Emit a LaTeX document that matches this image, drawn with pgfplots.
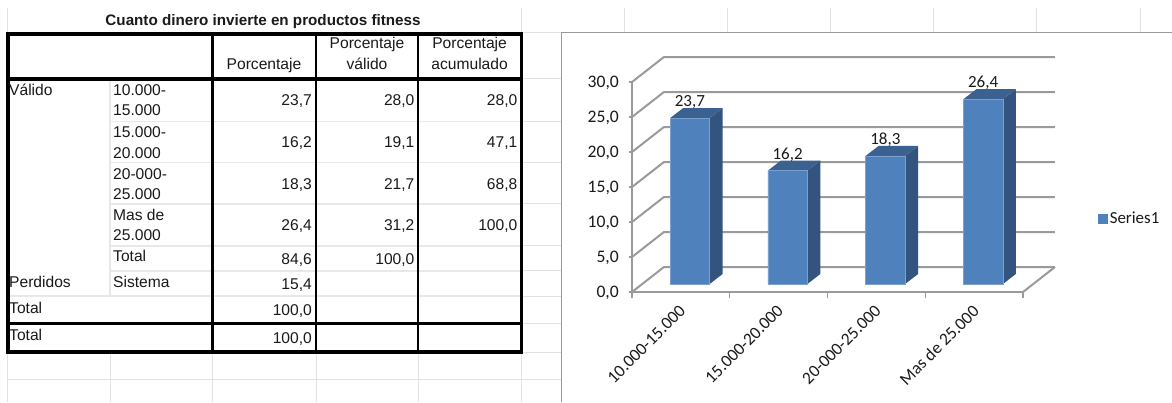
\documentclass[border=0pt]{standalone}
\usepackage{fontspec}
\setmainfont{Liberation Sans}
\newfontfamily\chartfont{Carlito}
\usepackage{pgfplots}
\usepackage{pgfplotstable}
\pgfplotsset{compat=1.18}

\definecolor{sheetgrid}{HTML}{E2E2E2}
\definecolor{rowgrid}{HTML}{E8E8E8}
\definecolor{wallline}{HTML}{9A9A9A}
\definecolor{barfront}{HTML}{4F81BD}
\definecolor{barside}{HTML}{33547F}
\definecolor{bartop}{HTML}{3A6190}
\definecolor{inktext}{HTML}{1A1A1A}

% Porcentaje by income band
\pgfplotstableread{
x   v
0.5 23.7
1.5 16.2
2.5 18.3
3.5 26.4
}\fitnessdata

% Depth of the extruded bars and half of their width, in axis units
\def\bardx{0.133}
\def\bardy{1.43}
\def\barhw{0.202}

% Side and top faces of one extruded bar at centre #1 and value #2
\newcommand\barfaces[2]{%
  \pgfmathsetmacro\xa{#1+\barhw}%
  \pgfmathsetmacro\xb{#1+\barhw+\bardx}%
  \pgfmathsetmacro\xc{#1-\barhw}%
  \pgfmathsetmacro\xd{#1-\barhw+\bardx}%
  \pgfmathsetmacro\yb{#2+\bardy}%
  \edef\facecmd{\noexpand\addplot[fill=barside,draw=none,forget plot]
    coordinates {(\xa,0) (\xb,\bardy) (\xb,\yb) (\xa,#2)};
    \noexpand\addplot[fill=bartop,draw=none,forget plot]
    coordinates {(\xc,#2) (\xd,\yb) (\xb,\yb) (\xa,#2)};}%
  \facecmd
}

% One wall gridline: front edge, then along the back wall
\newcommand\wallline[1]{%
  \pgfmathsetmacro\yb{#1+3.571}%
  \edef\wallcmd{\noexpand\addplot[wallline,line width=2pt,forget plot]
    coordinates {(0,#1) (0.327,\yb) (4.327,\yb)};}%
  \wallcmd
}

\newcommand\tabfont{\fontsize{15.6}{18}\selectfont\color{inktext}}

\begin{document}
\begin{tikzpicture}[x=1pt,y=1pt]
\path[use as bounding box] (0,0) rectangle (1172,402);
\fill[white] (0,0) rectangle (1172,402);

\begin{scope}[y=-1pt,yshift=402pt]
  % spreadsheet cell grid
  \begin{scope}[draw=sheetgrid,line width=1pt]
    \foreach \gx in {7,521.5}
      \draw (\gx,8) -- (\gx,402);
    \foreach \gx in {110,212.5,316,418}
      \draw (\gx,352) -- (\gx,402);
    \foreach \gx in {624.5,727,830,933.5,1036,1140}
      \draw (\gx,8) -- (\gx,33);
    \foreach \gy in {33,79,121.7,162.7,204,245.7,270.7,296,323,352}
      \draw (521.5,\gy) -- (561,\gy);
    \foreach \gy in {352,379}
      \draw (7,\gy) -- (561,\gy);
  \end{scope}

  % light row separators inside the table
  \begin{scope}[draw=rowgrid,line width=1.6pt]
    \foreach \gy in {121.7,162.7,204,245.7,270.7}
      \draw (110,\gy) -- (521,\gy);
    \draw (8,296) -- (521,296);
    \draw (110,79) -- (110,296);
  \end{scope}

  % table rules
  \draw[black,line width=1.4pt] (316,33) -- (316,352) (418,33) -- (418,352);
  \draw[black,line width=3.4pt] (8,34) rectangle (521.5,352);
  \draw[black,line width=3.4pt] (8,79) -- (521.5,79) (8,323.5) -- (521.5,323.5);
  \draw[black,line width=3.4pt] (212.5,33) -- (212.5,352);

  % table text
  \node[anchor=base,inner sep=0pt] at (263,25.5)
    {\fontsize{15.2}{17}\selectfont\bfseries\color{inktext}Cuanto dinero invierte en productos fitness};
  \foreach \tx/\ty/\tt in {264/69.5/Porcentaje,367/49/Porcentaje,367/69.5/válido,
      469.6/49/Porcentaje,469.6/69.5/acumulado}
    \node[anchor=base,inner sep=0pt] at (\tx,\ty) {\tabfont\tt};
  \foreach \tx/\ty/\tt in {9/95.5/Válido,113/95.5/10.000-,113/116/15.000,
      113/138/15.000-,113/158.5/20.000,113/179.5/20-000-,113/200/25.000,
      113/220.5/Mas de,113/241/25.000,113/261.5/Total,9/287.5/Perdidos,
      113/287.5/Sistema,9/313/Total,9/340.5/Total}
    \node[anchor=base west,inner sep=0pt] at (\tx,\ty) {\tabfont\tt};
  \foreach \tx/\ty/\tt in {312/105.5/{23,7},414.6/105.5/{28,0},517.5/105.5/{28,0},
      312/148/{16,2},414.6/148/{19,1},517.5/148/{47,1},
      312/189.5/{18,3},414.6/189.5/{21,7},517.5/189.5/{68,8},
      312/230.5/{26,4},414.6/230.5/{31,2},517.5/230.5/{100,0},
      312/264/{84,6},414.6/264/{100,0},312/289.5/{15,4},
      312/315.5/{100,0},312/343.5/{100,0}}
    \node[anchor=base east,inner sep=0pt] at (\tx,\ty) {\tabfont\tt};

  % chart frame
  \draw[draw=black!40,line width=1pt] (1172,33) -- (561,33) -- (561,402);
\end{scope}

% walls, floor and tick labels of the column chart
\begin{axis}[
  at={(632pt,110pt)},anchor=south west,
  scale only axis,width=391pt,height=210pt,
  xmin=0,xmax=4,ymin=0,ymax=30,
  clip=false,
  axis x line*=bottom,axis y line*=left,
  axis line style={wallline,line width=2pt,-},
  tick style={wallline,line width=1.2pt},
  tick align=outside,
  major tick length=3pt,
  minor tick length=6pt,
  xtick={0.5,1.5,2.5,3.5},
  minor xtick={0,1,2,3,4},
  xticklabels={10.000-15.000,15.000-20.000,20-000-25.000,Mas de 25.000},
  x tick style={draw=none},
  minor x tick style={draw=wallline,line width=1.2pt},
  xticklabel style={font=\chartfont\fontsize{17.4}{20}\selectfont,text=inktext,rotate=45,anchor=north east,inner sep=0pt,xshift=-8pt,yshift=-4.5pt},
  ytick={0,5,...,30},
  yticklabel style={font=\chartfont\fontsize{17.6}{20}\selectfont,text=inktext,inner sep=0pt,xshift=-10pt,yshift=-1pt,
    /pgf/number format/.cd,fixed,fixed zerofill,precision=1,use comma,assume math mode=true},
]
\wallline{0}\wallline{5}\wallline{10}\wallline{15}\wallline{20}\wallline{25}\wallline{30}
\addplot[wallline,line width=2pt,forget plot] coordinates {(4,0) (4.327,3.571)};
\end{axis}

% extruded columns, set on a plane just behind the front edge of the floor
\begin{axis}[
  at={(641pt,118pt)},anchor=south west,
  scale only axis,width=391pt,height=210pt,
  xmin=0,xmax=4,ymin=0,ymax=30,
  clip=false,
  axis lines=none,
  legend style={at={(1.169,0.312)},anchor=west,draw=none,fill=none,inner sep=0pt,
    font=\chartfont\fontsize{16.9}{19}\selectfont,text=inktext,
    nodes={inner sep=2pt}},
  legend image code/.code={\fill[barfront] (-1pt,-4.5pt) rectangle (8pt,4.5pt);},
]
\barfaces{0.5}{23.7}
\barfaces{1.5}{16.2}
\barfaces{2.5}{18.3}
\barfaces{3.5}{26.4}
\addplot[ybar,bar width=39.5pt,fill=barfront,draw=barfront!75,line width=0.5pt,
  nodes near coords,
  nodes near coords style={font=\chartfont\fontsize{17}{20}\selectfont,text=inktext,anchor=south,inner sep=0pt,yshift=9pt,
    /pgf/number format/.cd,fixed,fixed zerofill,precision=1,use comma,assume math mode=true},
] table[x=x,y=v] {\fitnessdata};
\addlegendentry{Series1}
\end{axis}
\end{tikzpicture}
\end{document}
